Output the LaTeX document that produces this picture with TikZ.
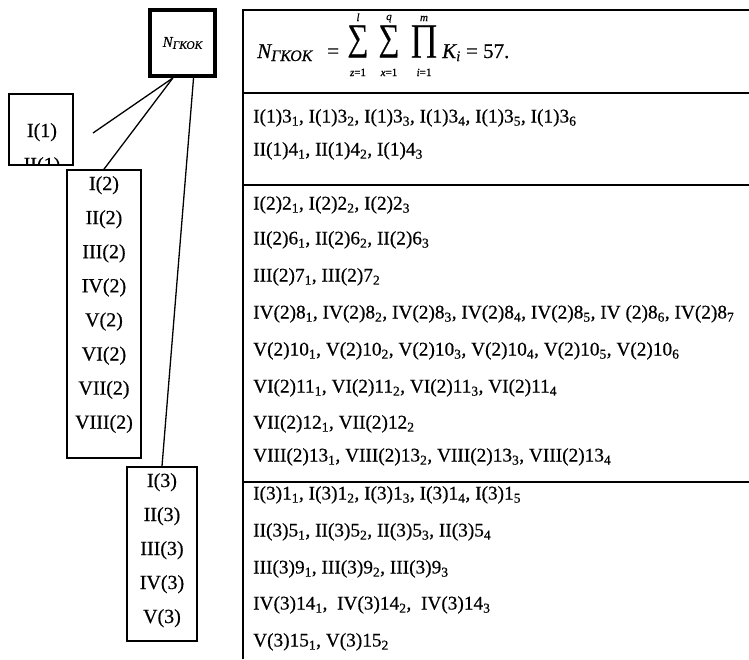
\documentclass[tikz,border=0pt]{standalone}
\usepackage{fontspec}
\setmainfont{Liberation Serif}[FakeBold=0.5]
\usepackage{graphicx}
\usetikzlibrary{calc}
\newcommand\lo[1]{\textsubscript{#1}}
\tikzset{
  nbox/.style={draw, line width=4pt, inner sep=0},
  lbox/.style={draw, line width=2.2pt, inner sep=0},
  lbl/.style={anchor=base, inner sep=0, font=\fontsize{20}{20}\selectfont},
  rowtxt/.style={anchor=base west, inner sep=0, font=\fontsize{19.3}{20}\selectfont},
  ftxt/.style={anchor=base west, inner sep=0, font=\fontsize{21}{21}\selectfont},
  limf/.style={anchor=base, inner sep=0, font=\fontsize{11}{11}\selectfont},
  bigop/.style={inner sep=0},
  conn/.style={line width=1.3pt},
  tbl/.style={line width=1.4pt}
}
\begin{document}
\begin{tikzpicture}[x=1pt,y=-1pt]
\useasboundingbox (0,0) rectangle (749,659);

% top box
\node[nbox, minimum width=65, minimum height=66] (nk) at (182.5,43)
  {\fontsize{15}{15}\selectfont\itshape N\raisebox{-2pt}{\fontsize{11.5}{11.5}\selectfont ГКОК}};

% box (1)
\begin{scope}
  \clip (9,94) rectangle (73,165);
  \node[lbl] (ii1) at (42,171) {II(1)};
\end{scope}
\node[lbox, minimum width=64, minimum height=71] (b1) at (41,129.5) {};
\node[lbl] (i1) at (42,137) {I(1)};

% box (2)
\node[lbox, minimum width=73.5, minimum height=287.5] (b2) at (104,314) {};
\foreach \t [count=\i] in {I,II,III,IV,V,VI,VII,VIII}
  \node[lbl] (b2l\i) at (104,{190+34.1*(\i-1)}) {\t(2)};

% box (3)
\node[lbox, minimum width=69.5, minimum height=173.5] (b3) at (162,554) {};
\foreach \t [count=\i] in {I,II,III,IV,V}
  \node[lbl] (b3l\i) at (162,{487+34*(\i-1)}) {\t(3)};

% connectors
\coordinate (c1end) at (93,133);
\coordinate (nks1) at ($(nk.south west)!0.36!(nk.south east)$);
\coordinate (nks2) at ($(nk.south west)!0.66!(nk.south east)$);
\draw[conn] (nks1) -- (c1end);
\draw[conn] (nks1) -- (b2.north);
\draw[conn] (nks2) -- (b3.north);

% table lines
\draw[tbl] (243,659) -- (243,10) -- (749,10);
\draw[tbl] (243,93) -- (749,93);
\draw[tbl] (243,185) -- (749,185);
\draw[tbl] (243,482) -- (749,482);

% formula
\node[ftxt] (fN) at (257,58) {\itshape N\raisebox{-3pt}{\fontsize{16}{16}\selectfont ГКОК}};
\node[ftxt] (feq) at (327,58) {=};
\node[bigop] (s1) at (358,41.5) {\resizebox*{21pt}{32pt}{∑}};
\node[limf] (s1b) at (358,76) {\itshape z\upshape =1};
\node[limf] (s1t) at (358,21) {\itshape l};
\node[bigop] (s2) at (389,41.5) {\resizebox*{21pt}{32pt}{∑}};
\node[limf] (s2b) at (389,76) {\itshape x\upshape =1};
\node[limf] (s2t) at (389,20) {\itshape q};
\node[bigop] (p1) at (424,41.5) {\resizebox*{28pt}{32pt}{∏}};
\node[limf] (p1b) at (424,76) {\itshape i\upshape =1};
\node[limf] (p1t) at (424,21) {\itshape m};
\node[ftxt] (fK) at (442,58) {\itshape K\textsubscript{\itshape i}\upshape{} = 57.};

% group 1
\node[rowtxt] (r11) at (253,122.5) {I(1)3\lo1, I(1)3\lo2, I(1)3\lo3, I(1)3\lo4, I(1)3\lo5, I(1)3\lo6};
\node[rowtxt] (r12) at (253,155.5) {II(1)4\lo1, II(1)4\lo2, I(1)4\lo3};

% group 2
\node[rowtxt] (r21) at (253,209.5) {I(2)2\lo1, I(2)2\lo2, I(2)2\lo3};
\node[rowtxt] (r22) at (253,244.5) {II(2)6\lo1, II(2)6\lo2, II(2)6\lo3};
\node[rowtxt] (r23) at (253,281.5) {III(2)7\lo1, III(2)7\lo2};
\node[rowtxt] (r24) at (253,318.5) {IV(2)8\lo1, IV(2)8\lo2, IV(2)8\lo3, IV(2)8\lo4, IV(2)8\lo5, IV (2)8\lo6, IV(2)8\lo7};
\node[rowtxt] (r25) at (253,355.5) {V(2)10\lo1, V(2)10\lo2, V(2)10\lo3, V(2)10\lo4, V(2)10\lo5, V(2)10\lo6};
\node[rowtxt] (r26) at (253,392.5) {VI(2)11\lo1, VI(2)11\lo2, VI(2)11\lo3, VI(2)11\lo4};
\node[rowtxt] (r27) at (253,428.5) {VII(2)12\lo1, VII(2)12\lo2};
\node[rowtxt] (r28) at (253,461.5) {VIII(2)13\lo1, VIII(2)13\lo2, VIII(2)13\lo3, VIII(2)13\lo4};

% group 3
\node[rowtxt] (r31) at (253,499.5) {I(3)1\lo1, I(3)1\lo2, I(3)1\lo3, I(3)1\lo4, I(3)1\lo5};
\node[rowtxt] (r32) at (253,536.5) {II(3)5\lo1, II(3)5\lo2, II(3)5\lo3, II(3)5\lo4};
\node[rowtxt] (r33) at (253,573.5) {III(3)9\lo1, III(3)9\lo2, III(3)9\lo3};
\node[rowtxt] (r34) at (253,609.5) {IV(3)14\lo1,\ \ IV(3)14\lo2,\ \ IV(3)14\lo3};
\node[rowtxt] (r35) at (253,646.5) {V(3)15\lo1, V(3)15\lo2};
\end{tikzpicture}
\end{document}
